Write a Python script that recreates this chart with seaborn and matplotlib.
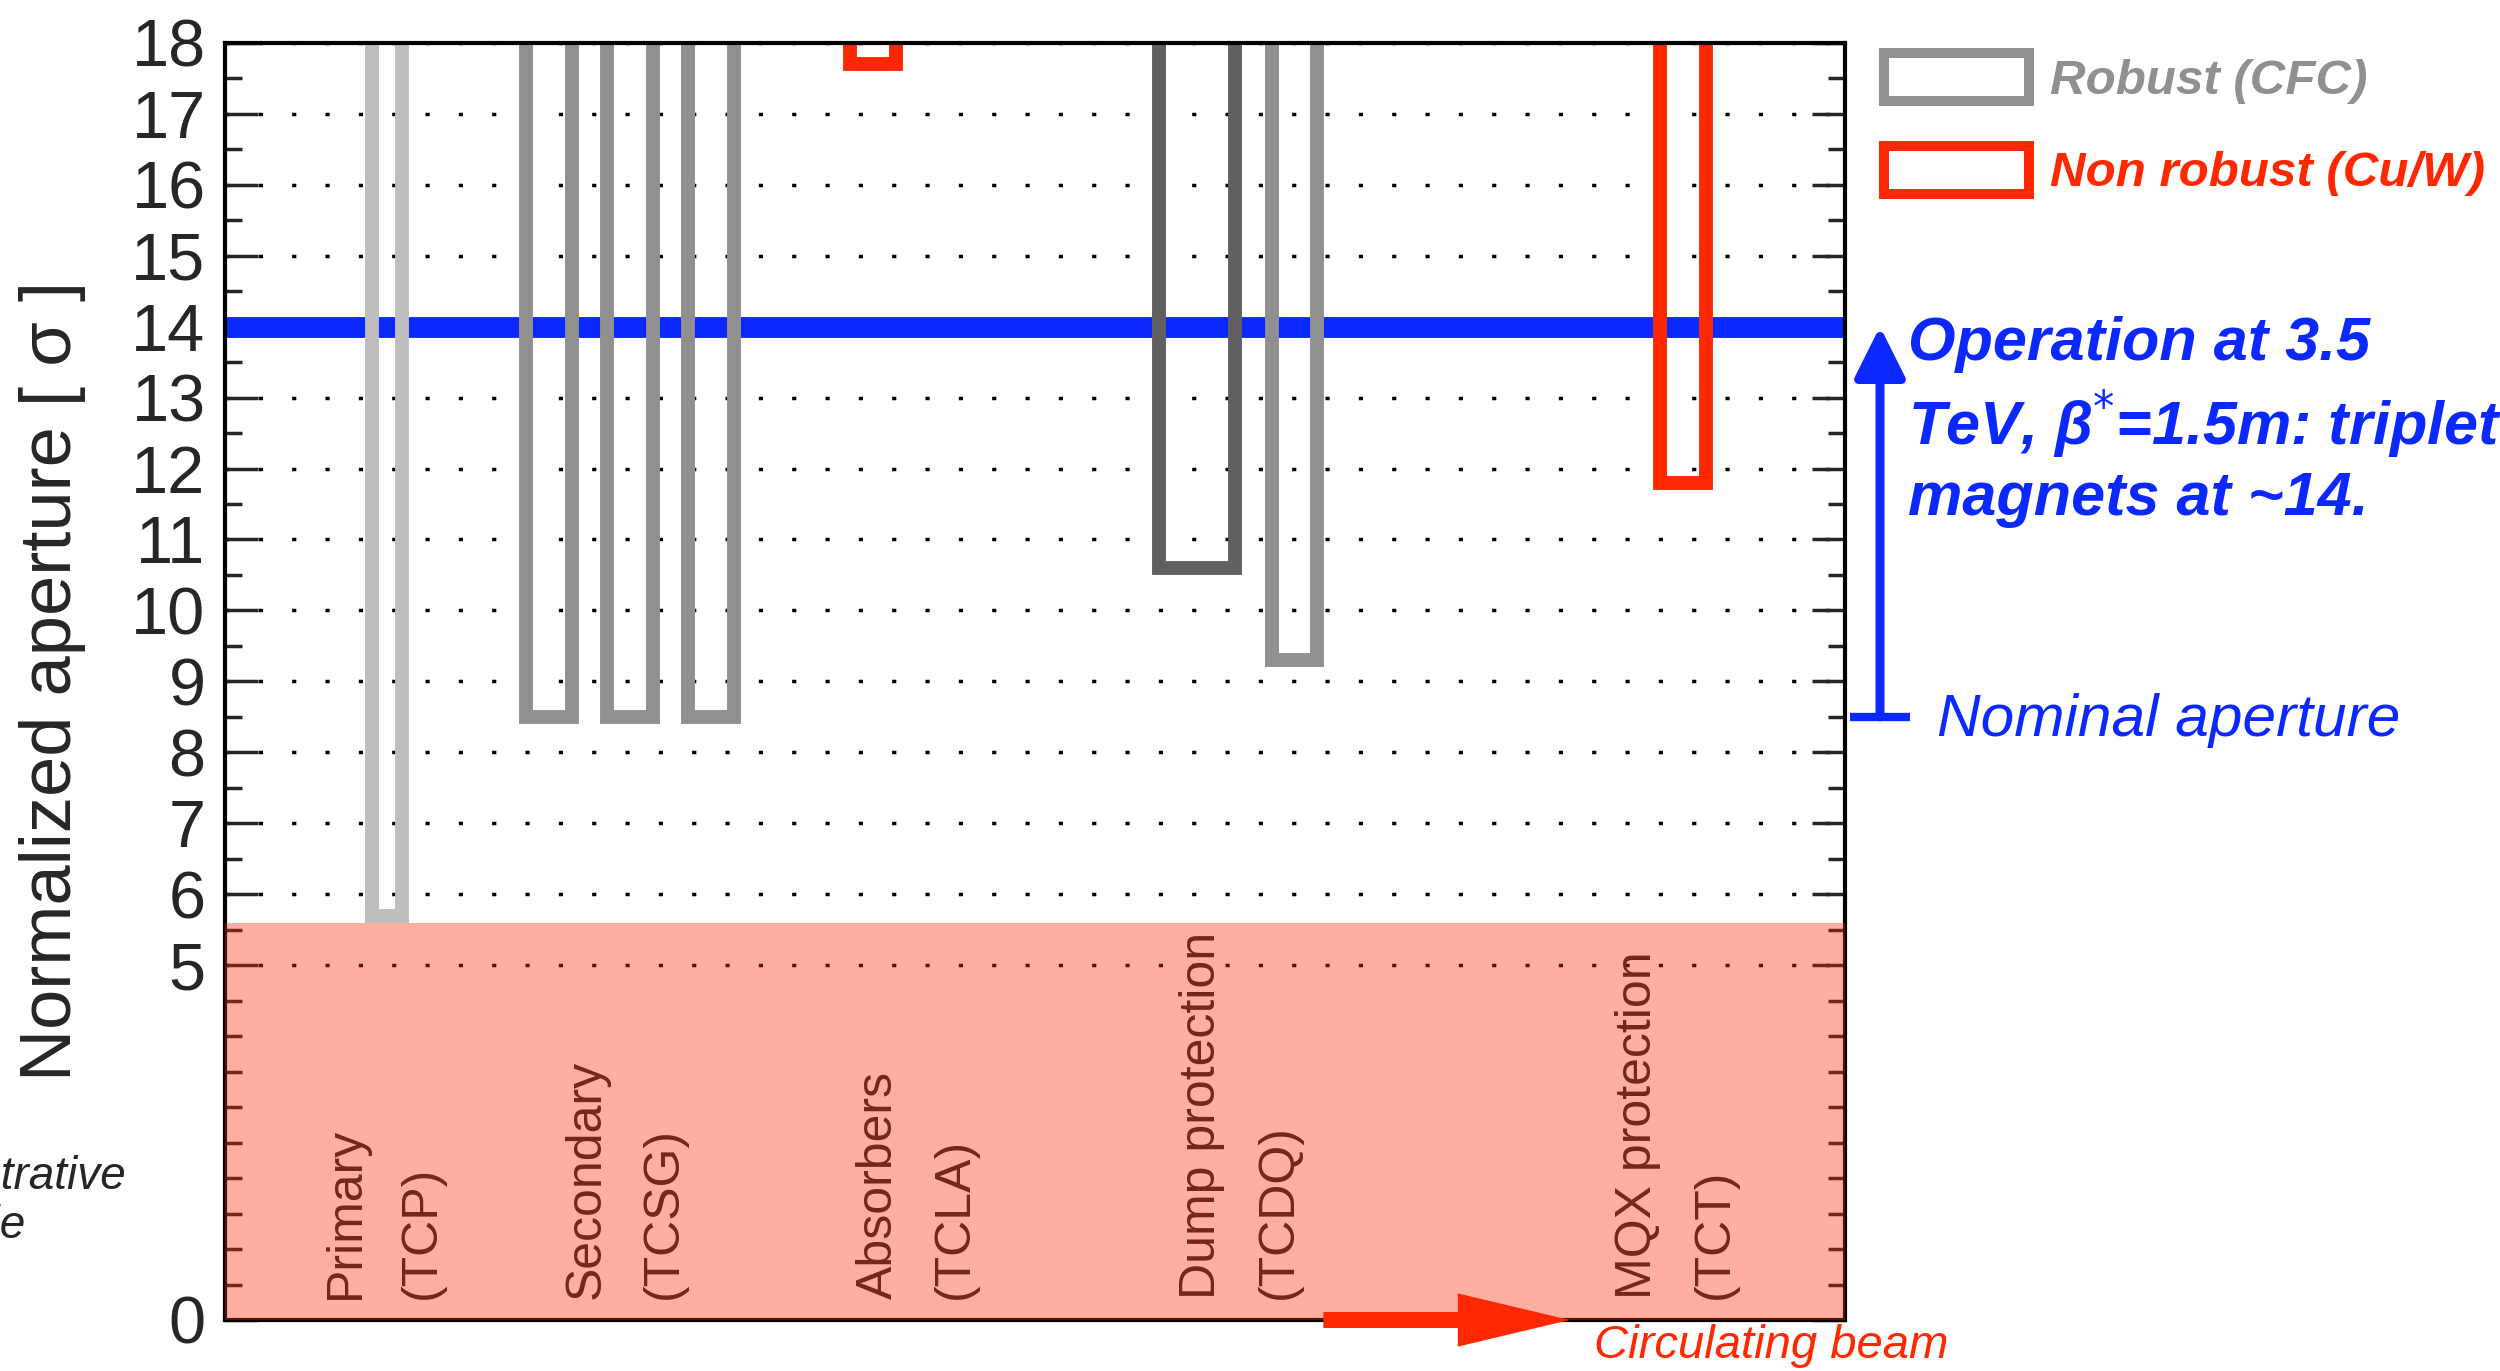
import seaborn as sns
import matplotlib.pyplot as plt
import numpy as np
import pandas as pd
from matplotlib.patches import Patch

# Collimators: position along the ring (arbitrary units), jaw width, aperture in sigma
names = ["TCP", "TCSG1", "TCSG2", "TCSG3", "TCLA", "TCDQ1", "TCDQ2", "TCT"]
positions = [10, 20, 25, 30, 40, 60, 66, 90]
widths = [1.8, 2.8, 2.8, 2.8, 2.8, 4.7, 2.8, 2.9]
apertures = [5.7, 8.5, 8.5, 8.5, 17.7, 10.6, 9.3, 11.8]
colors = ["#bebebe", "#909090", "#909090", "#909090", "#ff2800", "#606060", "#909090", "#ff2800"]

# Family labels inside the shaded zone
groups = ["Primary\n(TCP)", "Secondary\n(TCSG)", "Absorbers\n(TCLA)",
          "Dump protection\n(TCDQ)", "MQX protection\n(TCT)"]
group_pos = [9.8, 24.7, 42.7, 62.7, 89.6]

operation_level = 14
nominal_level = 8.5
illustrative_top = 5.6
major_ticks = [0, 5, 6, 7, 8, 9, 10, 11, 12, 13, 14, 15, 16, 17, 18]
legend_labels = ["Robust (CFC)", "Non robust (Cu/W)"]
legend_colors = ["#909090", "#ff2800"]

blue = "#0a28ff"
red = "#ff2800"

sns.set_style("white")
plt.rcParams["font.family"] = ["Liberation Sans", "DejaVu Sans"]

fig = plt.figure(figsize=(25, 13.71), dpi=100)
ax = fig.add_axes([0.09, 0.0372, 0.648, 0.9316])

# U-shaped jaws, open at the top (going off the axis)
rows = []
for n, p, w, a in zip(names, positions, widths, apertures):
    for k, (dx, y) in enumerate([(-0.5, 19), (-0.5, a), (0.5, a), (0.5, 19)]):
        rows.append({"name": n, "x": p + dx * w, "y": y, "order": k})
jaws = pd.DataFrame(rows)

ax.axhline(operation_level, color=blue, lw=15, zorder=1.8)
sns.lineplot(data=jaws, x="x", y="y", hue="name", palette=dict(zip(names, colors)),
             sort=False, estimator=None, legend=False, lw=10, ax=ax,
             solid_joinstyle="miter", solid_capstyle="butt", zorder=2)

ax.set_xlim(0, 100)
ax.set_ylim(0, 18)
ax.set_xlabel("")
ax.set_yticks(major_ticks)
ax.set_yticks(np.arange(0, 18.5, 0.5), minor=True)
ax.set_xticks([])
ax.yaxis.grid(True, which="major", color="black", linestyle=(0, (1.2, 8.4)), lw=2.5)
ax.tick_params(axis="y", which="major", direction="in", length=24, width=2.5,
               left=True, right=True, labelsize=48, pad=14)
ax.tick_params(axis="y", which="minor", direction="in", length=12, width=2.5,
               left=True, right=True)
for s in ax.spines.values():
    s.set_visible(True)
    s.set_color("black")
    s.set_linewidth(3)

ax.set_ylabel("Normalized aperture [ σ ]", fontsize=52)
ax.yaxis.set_label_coords(-0.086, 0.5)

for g, gx in zip(groups, group_pos):
    ax.text(gx, 0.3, g, rotation=90, ha="center", va="bottom", fontsize=36,
            linespacing=1.85, multialignment="left")

# translucent red zone over everything below the primary
ax.axhspan(0, illustrative_top, color=(1.0, 0.153, 0.0), alpha=0.37, lw=0, zorder=10)

# circulating beam arrow
ax.arrow(67.8, 0, 15.2, 0, width=0.225, head_width=0.75, head_length=6.9,
         length_includes_head=True, color=red, lw=0, clip_on=False, zorder=12)
ax.text(84.5, -0.06, "Circulating beam", color=red, style="italic", fontsize=34,
        ha="left", va="top", clip_on=False)

# right-side annotation
tr = ax.get_yaxis_transform()
ax.annotate("", xy=(1.0216, operation_level), xytext=(1.0216, nominal_level),
            xycoords=tr, textcoords=tr,
            arrowprops=dict(arrowstyle="-|>", lw=6.5, color=blue, mutation_scale=77,
                            shrinkA=0, shrinkB=0))
ax.plot([1.0031, 1.0401], [nominal_level, nominal_level], transform=tr, color=blue,
        lw=6, clip_on=False, solid_capstyle="butt")
ax.text(1.039, 14.15, "Operation at 3.5\nTeV, β$^{*}$=1.5m: triplet\nmagnets at ~14.",
        transform=tr, color=blue, fontsize=44, weight="bold", style="italic",
        ha="left", va="top", linespacing=1.25)
ax.text(1.057, 8.45, "Nominal aperture", transform=tr, color=blue, fontsize=43.5,
        style="italic", ha="left", va="center")

handles = [Patch(facecolor="none", edgecolor=c, lw=7.2) for c in legend_colors]
ax.legend(handles, legend_labels, loc="upper left", bbox_to_anchor=(1.024, 0.992),
          frameon=False, borderpad=0, borderaxespad=0, handlelength=2.95,
          handleheight=1.12, handletextpad=0.42, labelspacing=0.85,
          prop=dict(size=35.5, weight="bold", style="italic"), labelcolor=legend_colors)

fig.text(-0.0325, 0.1575, "Illustrative\nscale", style="italic", fontsize=33,
         ha="left", va="top", linespacing=1.15)

fig.savefig("out.png", dpi=100)
